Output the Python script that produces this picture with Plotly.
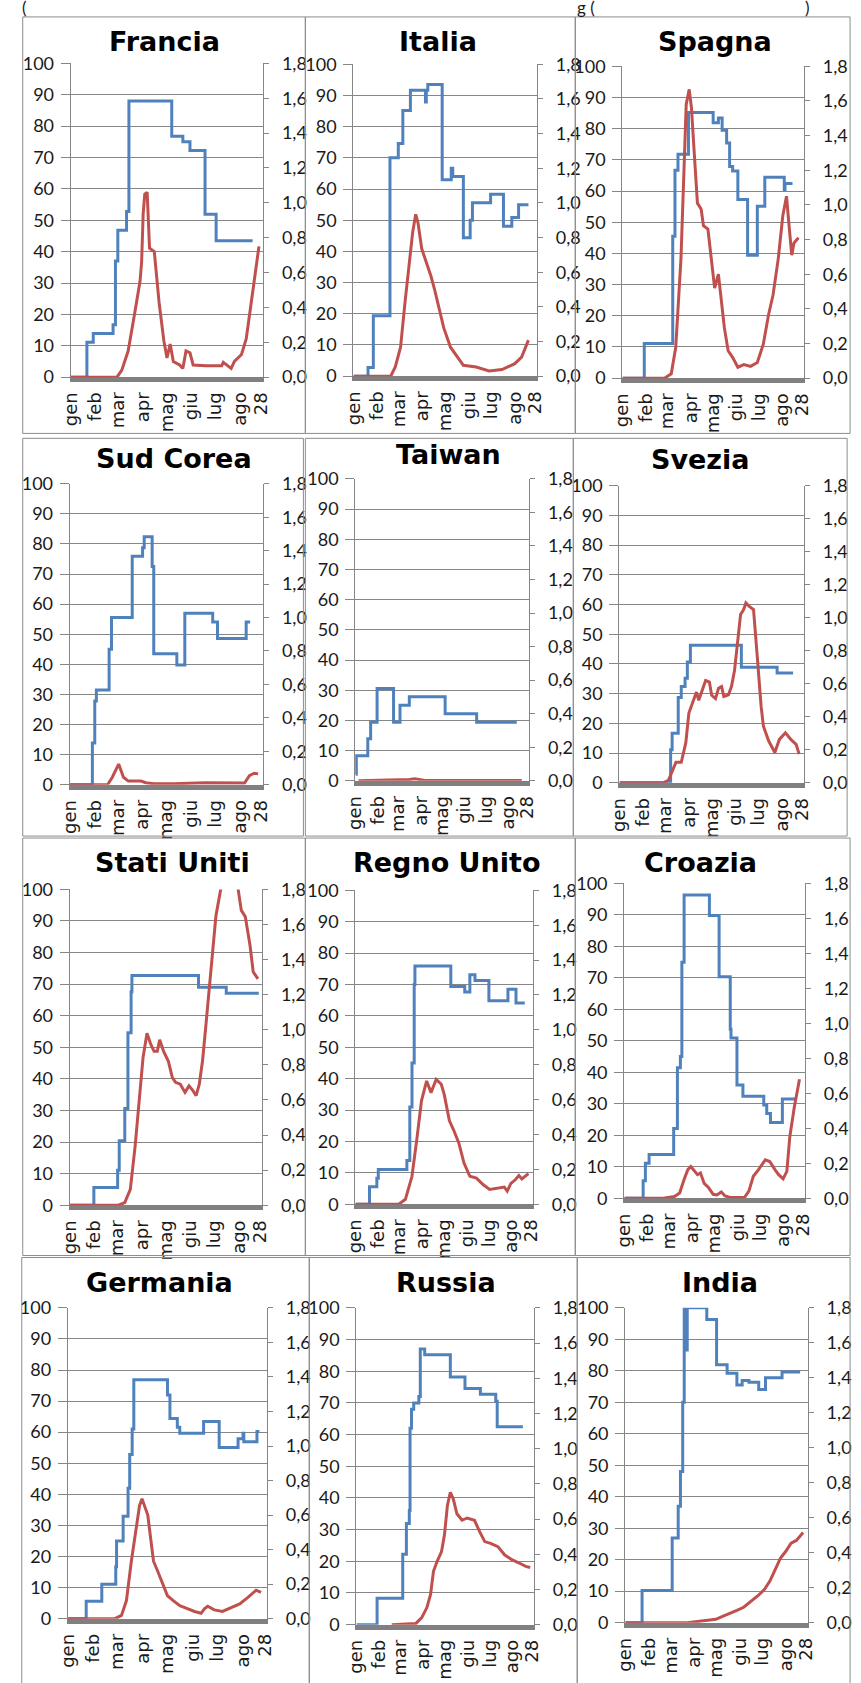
import pandas as pd
import plotly.graph_objects as go

# ---------------------------------------------------------------- data
COUNTRIES = ["Francia", "Italia", "Spagna", "Sud Corea", "Taiwan", "Svezia",
             "Stati Uniti", "Regno Unito", "Croazia", "Germania", "Russia", "India"]

MONTH_TICKS = ["2020-01-01", "2020-02-01", "2020-03-01", "2020-04-01", "2020-05-01",
               "2020-06-01", "2020-07-01", "2020-08-01", "2020-08-28"]
MONTH_LABELS = ["gen", "feb", "mar", "apr", "mag", "giu", "lug", "ago", "28"]

# Stringency index (left axis), change points: day offset from 1 Jan 2020 / value
FRA_STR_DAY = [0, 20, 28, 53, 56, 59, 70, 73, 127, 141, 150, 169, 183, 229]
FRA_STR_VAL = [0, 11.1, 13.9, 16.7, 37.0, 46.8, 52.8, 88.0, 76.8, 75.0, 72.2, 51.9, 43.5, 43.5]
ITA_STR_DAY = [0, 19, 26, 48, 59, 65, 75, 95, 96, 98, 117, 129, 131, 145, 154, 157, 181, 198, 209, 218, 231]
ITA_STR_VAL = [0, 2.8, 19.4, 70.0, 74.6, 85.2, 91.7, 87.9, 91.7, 93.5, 63.0, 66.7, 64.0, 44.4, 50.0, 55.6, 58.3, 48.1, 50.9, 55.0, 55.0]
ESP_STR_DAY = [0, 29, 67, 70, 74, 88, 121, 128, 133, 139, 143, 147, 154, 167, 180, 190, 216, 217, 227]
ESP_STR_VAL = [0, 11.1, 45.5, 66.7, 71.8, 85.2, 81.9, 83.4, 79.5, 75.4, 67.9, 66.4, 57.3, 39.4, 55.1, 64.4, 60.4, 62.4, 62.4]
KOR_STR_DAY = [0, 28, 31, 33, 49, 52, 78, 91, 93, 103, 105, 134, 144, 179, 185, 221, 226]
KOR_STR_VAL = [0, 13.9, 27.8, 31.5, 45.0, 55.6, 75.9, 78.7, 82.4, 72.5, 43.5, 39.8, 57.0, 54.1, 48.6, 54.1, 54.1]
TWN_STR_DAY = [0, 1, 17, 21, 30, 53, 62, 75, 125, 169, 225]
TWN_STR_VAL = [2.2, 8.3, 13.9, 19.4, 30.6, 19.4, 25.0, 27.8, 22.2, 19.4, 19.4]
SWE_STR_DAY = [0, 67, 69, 77, 81, 86, 89, 93, 160, 207, 228]
SWE_STR_VAL = [0, 11.1, 16.7, 28.7, 32.4, 35.2, 40.7, 46.3, 38.9, 37.0, 37.0]
USA_STR_DAY = [0, 30, 60, 62, 69, 73, 77, 78, 162, 197, 238]
USA_STR_VAL = [0, 5.6, 11.1, 20.4, 30.6, 54.6, 67.6, 72.7, 69.0, 67.1, 67.1]
GBR_STR_DAY = [0, 19, 29, 31, 70, 74, 77, 80, 81, 130, 149, 156, 163, 182, 208, 219, 231]
GBR_STR_VAL = [0, 5.6, 8.3, 11.1, 13.9, 31.0, 45.0, 70.0, 75.9, 69.4, 67.6, 73.1, 71.3, 64.8, 68.5, 64.1, 64.1]
HRV_STR_DAY = [0, 25, 28, 33, 66, 71, 75, 77, 80, 114, 127, 142, 143, 151, 159, 187, 191, 196, 212, 230]
HRV_STR_VAL = [0, 5.6, 11.1, 13.9, 22.2, 41.5, 45.0, 75.0, 96.3, 89.8, 70.4, 53.7, 50.9, 36.0, 32.4, 29.6, 26.9, 24.1, 31.5, 31.5]
DEU_STR_DAY = [0, 22, 41, 58, 59, 67, 73, 75, 78, 80, 121, 124, 133, 136, 165, 184, 207, 213, 214, 230, 233]
DEU_STR_VAL = [0, 5.6, 11.1, 16.7, 25.0, 33.0, 42.0, 52.8, 61.0, 76.9, 72.0, 64.4, 61.6, 59.7, 63.4, 55.1, 57.9, 59.7, 56.9, 60.2, 60.2]
RUS_STR_DAY = [0, 28, 63, 68, 72, 73, 75, 78, 85, 87, 93, 128, 148, 169, 190, 192, 227]
RUS_STR_VAL = [0, 8.3, 22.2, 31.9, 36.0, 62.0, 68.0, 70.0, 72.0, 87.0, 85.2, 78.2, 74.5, 72.7, 70.5, 62.5, 62.5]
IND_STR_DAY = [0, 22, 62, 70, 73, 76, 78, 81, 82, 108, 121, 135, 148, 155, 164, 177, 186, 208, 232]
IND_STR_VAL = [0, 10.2, 26.9, 37.0, 48.0, 70.0, 100, 86.6, 100, 96.3, 81.9, 79.2, 75.5, 76.9, 76.4, 74.1, 77.8, 79.6, 79.6]

# Daily deaths (right axis), sampled points: day offset / value
FRA_DTH_DAY = [0, 58, 64, 72, 80, 87, 89, 91, 93, 96, 99, 105, 111, 117, 121, 125, 129, 137, 141, 145,
               150, 154, 170, 190, 192, 202, 206, 215, 221, 225, 231, 237]
FRA_DTH_VAL = [0, 0, 0.04, 0.15, 0.36, 0.55, 0.66, 0.94, 1.05, 1.06, 0.74, 0.72, 0.43, 0.21, 0.11, 0.19, 0.09, 0.07, 0.05, 0.15,
               0.14, 0.07, 0.065, 0.065, 0.085, 0.05, 0.09, 0.13, 0.22, 0.36, 0.55, 0.75]
ITA_DTH_DAY = [0, 49, 55, 62, 68, 75, 78, 82, 85, 90, 96, 102, 107, 113, 119, 128, 137, 145, 162, 179,
               196, 203, 213, 222, 231]
ITA_DTH_VAL = [0, 0, 0.053, 0.167, 0.432, 0.735, 0.83, 0.934, 0.887, 0.735, 0.66, 0.58, 0.50, 0.39, 0.28, 0.167, 0.11, 0.063, 0.053, 0.03,
               0.038, 0.053, 0.072, 0.11, 0.208]
ESP_DTH_DAY = [0, 56, 65, 71, 78, 82, 85, 89, 92, 95, 100, 105, 108, 114, 119, 123, 128, 132, 136, 141,
               147, 154, 162, 171, 180, 188, 195, 201, 208, 214, 219, 222, 226, 229, 235]
ESP_DTH_VAL = [0, 0, 0.025, 0.177, 0.69, 1.20, 1.58, 1.667, 1.56, 1.35, 1.01, 0.975, 0.88, 0.86, 0.69, 0.52, 0.60, 0.44, 0.29, 0.158,
               0.12, 0.063, 0.078, 0.068, 0.09, 0.196, 0.366, 0.48, 0.69, 0.936, 1.05, 0.9, 0.71, 0.78, 0.81]
KOR_DTH_DAY = [0, 47, 53, 61, 67, 73, 89, 95, 105, 130, 170, 206, 219, 225, 231, 236]
KOR_DTH_VAL = [0, 0, 0.045, 0.124, 0.045, 0.022, 0.022, 0.012, 0.006, 0.006, 0.012, 0.012, 0.01, 0.055, 0.069, 0.065]
TWN_DTH_DAY = [4, 60, 75, 83, 95, 130, 232]
TWN_DTH_VAL = [0, 0.003, 0.008, 0.012, 0.004, 0.002, 0.002]
SWE_DTH_DAY = [0, 57, 64, 70, 74, 81, 87, 91, 98, 101, 104, 108, 113, 118, 121, 126, 130, 134, 137, 143,
               147, 151, 155, 159, 163, 166, 170, 176, 181, 186, 189, 196, 204, 210, 218, 225, 232, 236]
SWE_DTH_VAL = [0, 0, 0.014, 0.084, 0.124, 0.124, 0.243, 0.423, 0.52, 0.55, 0.50, 0.56, 0.62, 0.61, 0.53, 0.51, 0.573, 0.583, 0.523, 0.533,
               0.583, 0.68, 0.862, 1.02, 1.05, 1.09, 1.07, 1.05, 0.76, 0.463, 0.343, 0.253, 0.184, 0.263, 0.303, 0.263, 0.233, 0.174]
USA_DTH_DAY = [0, 61, 69, 76, 82, 88, 92, 97, 102, 106, 110, 113, 118, 124, 129, 133, 139, 145, 150, 155,
               159, 163, 167, 171, 176, 180, 184, 190, 199, 212, 216, 221, 227, 231, 237]
USA_DTH_VAL = [0, 0, 0.015, 0.09, 0.334, 0.634, 0.84, 0.98, 0.915, 0.877, 0.877, 0.943, 0.877, 0.82, 0.727, 0.70, 0.69, 0.643, 0.68, 0.653,
               0.624, 0.69, 0.82, 1.01, 1.25, 1.44, 1.65, 1.80, 2.0, 1.80, 1.68, 1.645, 1.48, 1.33, 1.29]
GBR_DTH_DAY = [0, 59, 68, 77, 84, 90, 97, 103, 110, 117, 121, 128, 134, 141, 148, 156, 165, 174, 183, 192,
               203, 207, 212, 218, 223, 227, 236]
GBR_DTH_VAL = [0, 0, 0.028, 0.16, 0.386, 0.594, 0.707, 0.64, 0.716, 0.688, 0.63, 0.48, 0.424, 0.35, 0.236, 0.16, 0.15, 0.113, 0.085, 0.09,
               0.098, 0.075, 0.119, 0.14, 0.164, 0.145, 0.175]
HRV_DTH_DAY = [0, 52, 67, 74, 80, 85, 89, 94, 98, 102, 107, 113, 119, 124, 130, 135, 143, 161, 167, 173,
               180, 189, 195, 202, 207, 213, 218, 222, 228, 235]
HRV_DTH_VAL = [0, 0, 0.01, 0.03, 0.107, 0.164, 0.182, 0.154, 0.135, 0.145, 0.085, 0.06, 0.023, 0.019, 0.036, 0.013, 0.004, 0.004, 0.041, 0.126,
               0.164, 0.22, 0.21, 0.164, 0.135, 0.111, 0.154, 0.352, 0.52, 0.68]
DEU_DTH_DAY = [0, 57, 65, 71, 77, 82, 87, 90, 93, 97, 101, 104, 109, 115, 121, 128, 136, 146, 154, 162,
               166, 170, 178, 188, 200, 209, 219, 229, 235]
DEU_DTH_VAL = [0, 0, 0.019, 0.105, 0.333, 0.485, 0.656, 0.694, 0.656, 0.60, 0.447, 0.333, 0.276, 0.20, 0.133, 0.105, 0.076, 0.057, 0.042, 0.032,
               0.057, 0.072, 0.051, 0.042, 0.067, 0.086, 0.124, 0.165, 0.152]
RUS_DTH_DAY = [48, 81, 89, 96, 101, 105, 110, 116, 120, 124, 128, 132, 137, 144, 151, 161, 168, 175, 183, 193,
               202, 212, 222, 231, 237]
RUS_DTH_VAL = [0, 0.007, 0.04, 0.097, 0.172, 0.303, 0.36, 0.415, 0.51, 0.677, 0.752, 0.715, 0.63, 0.593, 0.606, 0.593, 0.528, 0.472, 0.462, 0.443,
               0.397, 0.369, 0.35, 0.331, 0.325]
IND_DTH_DAY = [0, 82, 101, 120, 129, 138, 148, 157, 166, 176, 185, 192, 199, 206, 213, 220, 227, 236]
IND_DTH_VAL = [0, 0, 0.009, 0.019, 0.036, 0.05, 0.07, 0.088, 0.117, 0.154, 0.192, 0.239, 0.305, 0.37, 0.408, 0.455, 0.47, 0.515]

SERIES = {
    "Francia": (FRA_STR_DAY, FRA_STR_VAL, FRA_DTH_DAY, FRA_DTH_VAL),
    "Italia": (ITA_STR_DAY, ITA_STR_VAL, ITA_DTH_DAY, ITA_DTH_VAL),
    "Spagna": (ESP_STR_DAY, ESP_STR_VAL, ESP_DTH_DAY, ESP_DTH_VAL),
    "Sud Corea": (KOR_STR_DAY, KOR_STR_VAL, KOR_DTH_DAY, KOR_DTH_VAL),
    "Taiwan": (TWN_STR_DAY, TWN_STR_VAL, TWN_DTH_DAY, TWN_DTH_VAL),
    "Svezia": (SWE_STR_DAY, SWE_STR_VAL, SWE_DTH_DAY, SWE_DTH_VAL),
    "Stati Uniti": (USA_STR_DAY, USA_STR_VAL, USA_DTH_DAY, USA_DTH_VAL),
    "Regno Unito": (GBR_STR_DAY, GBR_STR_VAL, GBR_DTH_DAY, GBR_DTH_VAL),
    "Croazia": (HRV_STR_DAY, HRV_STR_VAL, HRV_DTH_DAY, HRV_DTH_VAL),
    "Germania": (DEU_STR_DAY, DEU_STR_VAL, DEU_DTH_DAY, DEU_DTH_VAL),
    "Russia": (RUS_STR_DAY, RUS_STR_VAL, RUS_DTH_DAY, RUS_DTH_VAL),
    "India": (IND_STR_DAY, IND_STR_VAL, IND_DTH_DAY, IND_DTH_VAL),
}

# ---------------------------------------------------------------- layout (pixels)
W, H = 861, 1683
# plot area: left, right, top(100), bottom(0)
PLOT_BOX = [
    (61, 258, 52, 370), (350, 538, 53, 369), (625, 811, 55, 371),
    (60, 258, 478, 783), (352, 530, 473, 779), (622, 811, 480, 781),
    (60, 257, 889, 1209), (352, 534, 890, 1208), (627, 812, 883, 1202),
    (58, 262, 1313, 1628), (353, 535, 1313, 1634), (628, 815, 1313, 1632),
]
TITLE_POS = [
    (157, 30), (437, 30), (720, 30),
    (167, 452), (447, 448), (705, 453),
    (165, 862), (445, 862), (705, 862),
    (152, 1287), (445, 1287), (725, 1287),
]
PANEL_BOX = [
    (12, 5, 301, 427), (301, 5, 577, 427), (577, 5, 858, 427),
    (12, 432, 299, 835), (301, 432, 575, 835), (575, 432, 855, 835),
    (12, 837, 301, 1260), (301, 837, 577, 1260), (577, 837, 858, 1260),
    (11, 1262, 305, 1700), (305, 1262, 579, 1700), (579, 1262, 858, 1700),
]

BLUE = "#4F81BD"
RED = "#C0504D"
GRID = "#868686"
TXT = "#1a1a1a"
FONT = "DejaVu Sans"
TICKFONT = "Lato"


def fx(px):
    return px / W


def fy(py):
    return 1 - py / H


BASE = pd.Timestamp("2020-01-01")


def to_dates(days):
    return [BASE + pd.Timedelta(days=d) for d in days]


X_RANGE = [BASE - pd.Timedelta(hours=12), BASE + pd.Timedelta(days=242.5)]

fig = go.Figure()
layout = {}
shapes = []
annotations = []

for i, name in enumerate(COUNTRIES):
    n = i + 1
    xa = "x" if n == 1 else f"x{n}"
    xkey = "xaxis" if n == 1 else f"xaxis{n}"
    yl_n, yr_n = 2 * i + 1, 2 * i + 2
    yl = "y" if yl_n == 1 else f"y{yl_n}"
    ylkey = "yaxis" if yl_n == 1 else f"yaxis{yl_n}"
    yr = f"y{yr_n}"
    yrkey = f"yaxis{yr_n}"

    sd, sv, dd, dv = SERIES[name]
    fig.add_trace(go.Scatter(x=to_dates(sd), y=sv, mode="lines",
                             line=dict(color=BLUE, width=3, shape="hv"),
                             xaxis=xa, yaxis=yl, showlegend=False, hoverinfo="skip"))
    fig.add_trace(go.Scatter(x=to_dates(dd), y=dv, mode="lines",
                             line=dict(color=RED, width=3),
                             xaxis=xa, yaxis=yr, showlegend=False, hoverinfo="skip"))

    L, R, T, B = PLOT_BOX[i]
    layout[xkey] = dict(domain=[fx(L), fx(R)], anchor=yl, type="date", range=X_RANGE,
                        tickmode="array", tickvals=MONTH_TICKS, ticktext=MONTH_LABELS,
                        tickangle=-90, showgrid=False, zeroline=False,
                        showline=True, linecolor="#808080", linewidth=5, layer="below traces",
                        ticks="", ticklabelstandoff=3,
                        tickfont=dict(family=FONT, size=18, color=TXT), fixedrange=True)
    layout[ylkey] = dict(domain=[fy(B), fy(T)], anchor=xa, range=[0, 100],
                         tick0=0, dtick=10, showgrid=True, gridcolor=GRID, gridwidth=1,
                         showline=True, linecolor=GRID, linewidth=1, zeroline=False,
                         ticks="outside", ticklen=9, tickcolor=GRID, tickwidth=1,
                         ticklabelstandoff=3,
                         tickfont=dict(family=TICKFONT, size=18, color=TXT), fixedrange=True)
    layout[yrkey] = dict(overlaying=yl, side="right", anchor=xa, range=[0, 1.8],
                         tick0=0, dtick=0.2, tickformat=".1f", showgrid=False,
                         showline=True, linecolor=GRID, linewidth=1, zeroline=False,
                         ticks="outside", ticklen=5, tickcolor=GRID, tickwidth=1,
                         ticklabelstandoff=9,
                         tickfont=dict(family=TICKFONT, size=18, color=TXT), fixedrange=True)

    # panel frame
    pl, pt, pr, pb = PANEL_BOX[i]
    shapes.append(dict(type="rect", xref="paper", yref="paper",
                       x0=fx(pl), x1=fx(pr), y0=fy(pb), y1=fy(pt),
                       line=dict(color="#8C8C8C", width=1),
                       layer="above"))
    cx, cy = TITLE_POS[i]
    annotations.append(dict(text=f"<b>{name}</b>", xref="paper", yref="paper",
                            x=fx(cx), y=fy(cy), xanchor="center", yanchor="middle",
                            showarrow=False, font=dict(family=FONT, size=27, color="#000000")))

# cut-off caption line above the panels (only its lowest pixels are visible)
for txt, px in [("(", 14), ("g (", 588), (")", 814)]:
    annotations.append(dict(text=txt, xref="paper", yref="paper", x=fx(px), y=fy(-5),
                            xanchor="center", yanchor="middle", showarrow=False,
                            font=dict(family=TICKFONT, size=17, color=TXT)))

fig.update_layout(
    width=W, height=H,
    margin=dict(l=0, r=0, t=0, b=0),
    paper_bgcolor="white", plot_bgcolor="rgba(0,0,0,0)",
    separators=",.",
    showlegend=False,
    shapes=shapes,
    annotations=annotations,
    **layout,
)

fig.write_html("out.html", config={"displayModeBar": False},
               post_script="document.body.style.margin='0';document.documentElement.style.overflow='hidden';")
